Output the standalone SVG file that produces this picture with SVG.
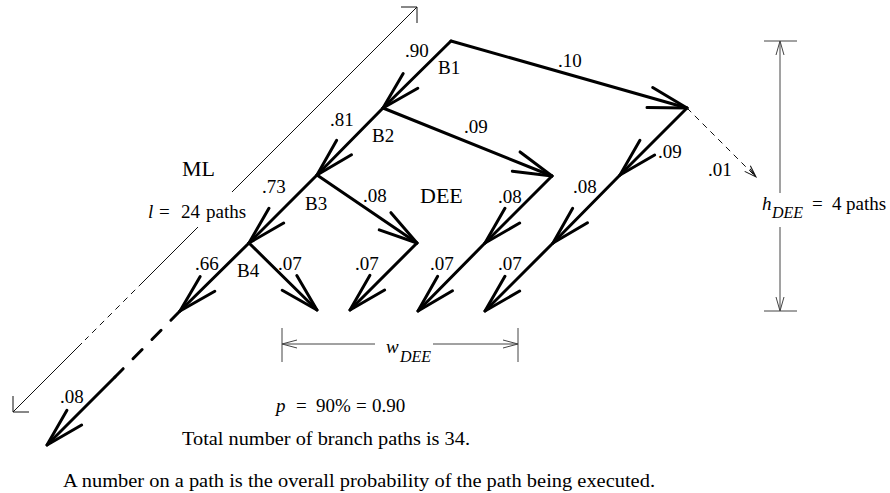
<svg xmlns="http://www.w3.org/2000/svg" width="890" height="493" viewBox="0 0 890 493">
<style>
text{font-family:'Liberation Serif','Times New Roman',serif;fill:#000}
.lb{font-size:19px}
.big{font-size:22px}
.it{font-style:italic}
.sub{font-size:16px;font-style:italic}
.br{fill:none;stroke:#000;stroke-width:3;stroke-linecap:round}
.thin{fill:none;stroke:#111;stroke-width:1}
.dim{fill:none;stroke:#444;stroke-width:1}
</style>
<defs>
<marker id="ah" markerUnits="userSpaceOnUse" orient="auto" markerWidth="60" markerHeight="40" viewBox="-50 -20 60 40" refX="0" refY="0" overflow="visible">
<path d="M-38.6,-10.4 L0,0 L-38.6,10.4" fill="none" stroke="#000" stroke-width="3" stroke-linejoin="round" stroke-linecap="round"/>
</marker>
<marker id="sa" markerUnits="userSpaceOnUse" orient="auto" markerWidth="30" markerHeight="20" viewBox="-20 -10 30 20" refX="0" refY="0" overflow="visible">
<path d="M-12,-4 L0,0 L-12,4 M-10,-1.5 L0,0" fill="none" stroke="#111" stroke-width="1"/>
</marker>
</defs>
<rect width="890" height="493" fill="#fff"/>

<g id="connectors">
<path class="br" d="M451,41 L383,108" marker-end="url(#ah)"/>
<path class="br" d="M451,41 L687,108" marker-end="url(#ah)"/>
<path class="br" d="M383,108 L317,175" marker-end="url(#ah)"/>
<path class="br" d="M383,108 L552,176" marker-end="url(#ah)"/>
<path class="br" d="M317,175 L249,243" marker-end="url(#ah)"/>
<path class="br" d="M317,175 L417,243" marker-end="url(#ah)"/>
<path class="br" d="M249,243 L180,311" marker-end="url(#ah)"/>
<path class="br" d="M249,243 L317,310" marker-end="url(#ah)"/>
<path class="br" d="M417,243 L350,310" marker-end="url(#ah)"/>
<path class="br" d="M552,176 L485,243" marker-end="url(#ah)"/>
<path class="br" d="M485,243 L418,311" marker-end="url(#ah)"/>
<path class="br" d="M687,108 L620,175" marker-end="url(#ah)"/>
<path class="br" d="M620,175 L553,243" marker-end="url(#ah)"/>
<path class="br" d="M553,243 L485,311" marker-end="url(#ah)"/>
<path class="br" d="M180,311 L115,377" stroke-dasharray="13 14" stroke-linecap="butt"/>
<path class="br" d="M115,377 L47,445" marker-end="url(#ah)"/>
<path class="thin" d="M687,108 L756,177" stroke-dasharray="6 5" marker-end="url(#sa)"/>
</g>

<g id="ml-dimension">
<path class="thin" d="M417,7 L232,192 M198,227 L143,282 M82,343 L13,412"/>
<path class="thin" d="M143,282 L85,340" stroke-dasharray="6 5"/>
<path class="thin" d="M401,7 L417,7 L417,23 M29,412 L13,412 L13,396"/>
<text class="big" x="182" y="176">ML</text>
<text class="lb" y="218"><tspan class="it" x="148">l</tspan><tspan x="159">=</tspan><tspan x="181">24</tspan><tspan x="206">paths</tspan></text>
</g>

<g id="h-dimension">
<path class="dim" d="M780,41 L780,193 M780,227 L780,311 M764,41 H797 M764,311 H797 M776,55 L780,41 L784,55 M776,297 L780,311 L784,297"/>
<text class="lb" y="210"><tspan class="it" x="762">h</tspan><tspan class="sub" x="772" y="218">DEE</tspan><tspan x="812" y="210">=</tspan><tspan x="832">4</tspan><tspan x="846">paths</tspan></text>
</g>

<g id="w-dimension">
<path class="dim" d="M282,344 H375 M433,344 H518 M282,328 V362 M518,328 V362 M297,340 L282,344 L297,348 M503,340 L518,344 L503,348"/>
<text class="lb"><tspan class="it" x="386" y="353">w</tspan><tspan class="sub" x="400" y="362">DEE</tspan></text>
</g>

<g id="B1"><text class="lb" x="438" y="74">B1</text></g>
<g id="B2"><text class="lb" x="372" y="142">B2</text></g>
<g id="B3"><text class="lb" x="305" y="210">B3</text></g>
<g id="B4"><text class="lb" x="237" y="277">B4</text></g>
<g id="DEE"><text class="big" x="420" y="203">DEE</text></g>

<g id="probabilities">
<text class="lb" x="405" y="57">.90</text>
<text class="lb" x="558" y="67">.10</text>
<text class="lb" x="330" y="126">.81</text>
<text class="lb" x="464" y="133">.09</text>
<text class="lb" x="658" y="158">.09</text>
<text class="lb" x="262" y="193">.73</text>
<text class="lb" x="363" y="202">.08</text>
<text class="lb" x="498" y="203">.08</text>
<text class="lb" x="573" y="193">.08</text>
<text class="lb" x="708" y="176">.01</text>
<text class="lb" x="195" y="270">.66</text>
<text class="lb" x="278" y="270">.07</text>
<text class="lb" x="355" y="270">.07</text>
<text class="lb" x="430" y="270">.07</text>
<text class="lb" x="498" y="270">.07</text>
<text class="lb" x="60" y="403">.08</text>
</g>

<g id="notes">
<text class="lb" y="412"><tspan class="it" x="276">p</tspan><tspan x="296">=</tspan><tspan x="316">90%</tspan><tspan x="356">=</tspan><tspan x="372">0.90</tspan></text>
<text style="font-size:18px" x="182" y="445" textLength="288" lengthAdjust="spacingAndGlyphs">Total number of branch paths is 34.</text>
<text style="font-size:18px" x="63" y="487" textLength="592" lengthAdjust="spacingAndGlyphs">A number on a path is the overall probability of the path being executed.</text>
</g>
</svg>
